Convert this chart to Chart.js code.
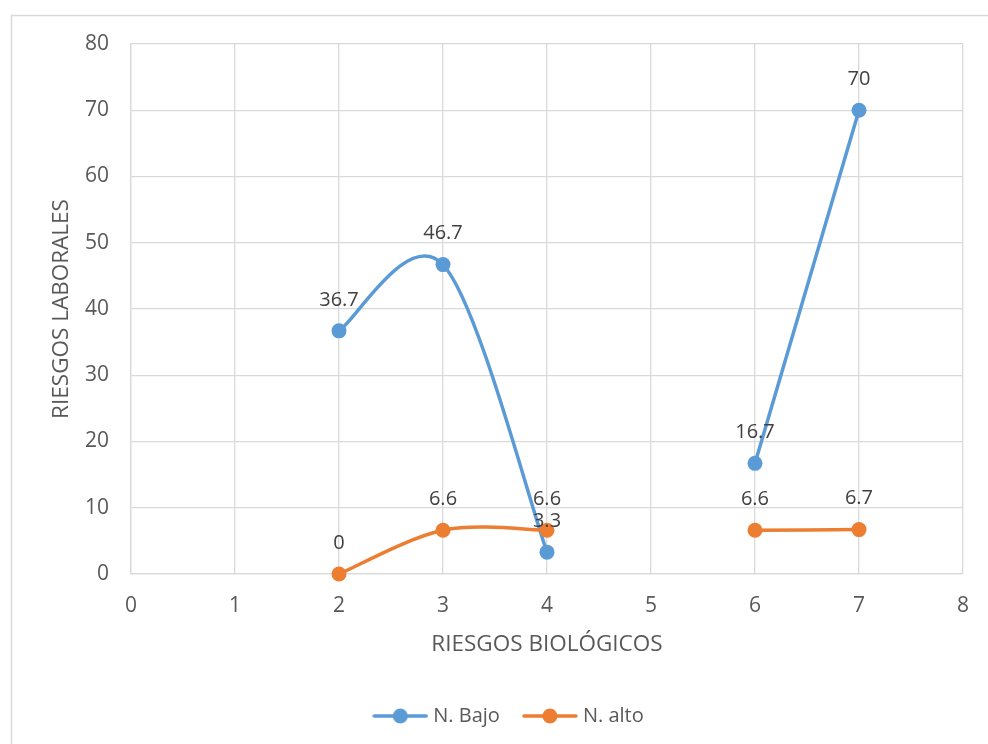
<!DOCTYPE html>
<html>
<head>
<meta charset="utf-8">
<script src="https://cdn.jsdelivr.net/npm/chart.js@4.4.1/dist/chart.umd.min.js"></script>
<style>
  html, body { margin: 0; padding: 0; background: #ffffff; }
  #wrap { width: 988px; height: 744px; position: relative; }
</style>
</head>
<body>
<div id="wrap"><canvas id="chart" width="988" height="744"></canvas></div>
<script>
// Biological risk levels (x) against occupational risk percentages (y)
const xValues = [2, 3, 4, 5, 6, 7];
const nBajo   = [36.7, 46.7, 3.3, null, 16.7, 70];
const nAlto   = [0, 6.6, 6.6, null, 6.6, 6.7];
const seriesNames = ['N. Bajo', 'N. alto'];
const xTicks = [0, 1, 2, 3, 4, 5, 6, 7, 8];
const yTicks = [0, 10, 20, 30, 40, 50, 60, 70, 80];

const BLUE = '#5B9BD5';
const ORANGE = '#ED7D31';
const FONT = "'Open Sans', 'Liberation Sans', sans-serif";

const toPoints = (vals) => xValues.map((x, i) => ({ x: x, y: vals[i] }));

// legend marker: short line with a dot in the middle
function legendMarker(color) {
  const c = document.createElement('canvas');
  c.width = 56; c.height = 18;
  const g = c.getContext('2d');
  g.strokeStyle = color; g.lineWidth = 3.5; g.lineCap = 'round';
  g.beginPath(); g.moveTo(2, 9); g.lineTo(54, 9); g.stroke();
  g.fillStyle = color;
  g.beginPath(); g.arc(28, 9, 7.5, 0, Math.PI * 2); g.fill();
  return c;
}
const markers = [legendMarker(BLUE), legendMarker(ORANGE)];

// outer chart frame
const framePlugin = {
  id: 'frame',
  beforeDraw(chart) {
    const ctx = chart.ctx;
    ctx.save();
    ctx.fillStyle = '#ffffff';
    ctx.fillRect(0, 0, chart.width, chart.height);
    ctx.strokeStyle = '#d9d9d9';
    ctx.lineWidth = 1.5;
    ctx.strokeRect(11.5, 15.5, 1200, 1200);
    ctx.restore();
  },
  // nudge the legend row to the right
  afterLayout(chart) {
    const lg = chart.legend;
    if (lg) { lg.left += 29; lg.right += 29; }
  }
};

// Catmull-Rom style smoothing: control points at +/- (next - prev) / 6
// within each unbroken run of points
const smoothPlugin = {
  id: 'smoothRuns',
  beforeDatasetDraw(chart, args) {
    const meta = args.meta;
    const line = meta.dataset;
    if (!line) return;
    line.updateControlPoints(chart.chartArea, 'x');
    const pts = line.points;
    let run = [];
    const flush = () => {
      for (let i = 0; i < run.length; i++) {
        const p = run[i];
        const prev = run[i - 1] || p;
        const next = run[i + 1] || p;
        const dx = (next.x - prev.x) / 6;
        const dy = (next.y - prev.y) / 6;
        p.cp1x = p.x - dx; p.cp1y = p.y - dy;
        p.cp2x = p.x + dx; p.cp2y = p.y + dy;
      }
      run = [];
    };
    pts.forEach(p => { if (p.skip) flush(); else run.push(p); });
    flush();
  }
};

// value labels above each point
const valueLabels = {
  id: 'valueLabels',
  afterDatasetsDraw(chart) {
    const ctx = chart.ctx;
    ctx.save();
    ctx.font = '20px ' + FONT;
    ctx.fillStyle = '#404040';
    ctx.textAlign = 'center';
    ctx.textBaseline = 'middle';
    chart.data.datasets.forEach((ds, di) => {
      const meta = chart.getDatasetMeta(di);
      meta.data.forEach((pt, i) => {
        const v = ds.data[i].y;
        if (v === null || v === undefined) return;
        ctx.fillText(String(v), pt.x, pt.y - 31);
      });
    });
    ctx.restore();
  }
};

new Chart(document.getElementById('chart'), {
  type: 'line',
  data: {
    datasets: [
      {
        label: seriesNames[0],
        data: toPoints(nBajo),
        borderColor: BLUE,
        backgroundColor: BLUE,
        borderWidth: 3.5,
        pointRadius: 7.5,
        pointHoverRadius: 7.5,
        pointBorderWidth: 0,
        tension: 0.4,
        spanGaps: false,
        clip: false,
        order: 1
      },
      {
        label: seriesNames[1],
        data: toPoints(nAlto),
        borderColor: ORANGE,
        backgroundColor: ORANGE,
        borderWidth: 3.5,
        pointRadius: 7.5,
        pointHoverRadius: 7.5,
        pointBorderWidth: 0,
        tension: 0.4,
        spanGaps: false,
        clip: false,
        order: 0
      }
    ]
  },
  options: {
    responsive: false,
    animation: false,
    events: [],
    layout: { padding: { left: 0, top: 44, right: 25, bottom: 8 } },
    scales: {
      x: {
        type: 'linear',
        min: xTicks[0],
        max: xTicks[xTicks.length - 1],
        afterBuildTicks(scale) { scale.ticks = xTicks.map(v => ({ value: v })); },
        afterFit(scale) { scale.height = 105; },
        grid: { color: '#d9d9d9', lineWidth: 1.3, drawTicks: false },
        border: { color: '#d9d9d9', width: 1.3 },
        ticks: { color: '#595959', font: { family: FONT, size: 21 }, padding: 19, maxRotation: 0 },
        title: {
          display: true,
          text: 'RIESGOS BIOLÓGICOS',
          color: '#595959',
          font: { family: FONT, size: 22.5 },
          padding: { top: 0, bottom: 21 }
        }
      },
      y: {
        min: yTicks[0],
        max: yTicks[yTicks.length - 1],
        afterBuildTicks(scale) { scale.ticks = yTicks.map(v => ({ value: v })); },
        afterFit(scale) { scale.width = 131; },
        grid: { color: '#d9d9d9', lineWidth: 1.3, drawTicks: false },
        border: { color: '#d9d9d9', width: 1.3 },
        ticks: { color: '#595959', font: { family: FONT, size: 21 }, padding: 22 },
        title: {
          display: true,
          text: 'RIESGOS LABORALES',
          color: '#595959',
          font: { family: FONT, size: 22.5 },
          padding: { top: 48, bottom: 0 }
        }
      }
    },
    plugins: {
      tooltip: { enabled: false },
      legend: {
        position: 'bottom',
        labels: {
          color: '#595959',
          font: { family: FONT, size: 20 },
          usePointStyle: true,
          pointStyleWidth: 46,
          padding: 27,
          generateLabels(chart) {
            return chart.data.datasets.map((ds, i) => ({
              text: ds.label,
              pointStyle: markers[i],
              fillStyle: ds.borderColor,
              strokeStyle: ds.borderColor,
              fontColor: '#595959',
              lineWidth: 0,
              hidden: false,
              datasetIndex: i
            }));
          }
        }
      }
    }
  },
  plugins: [framePlugin, smoothPlugin, valueLabels]
});
</script>
</body>
</html>
